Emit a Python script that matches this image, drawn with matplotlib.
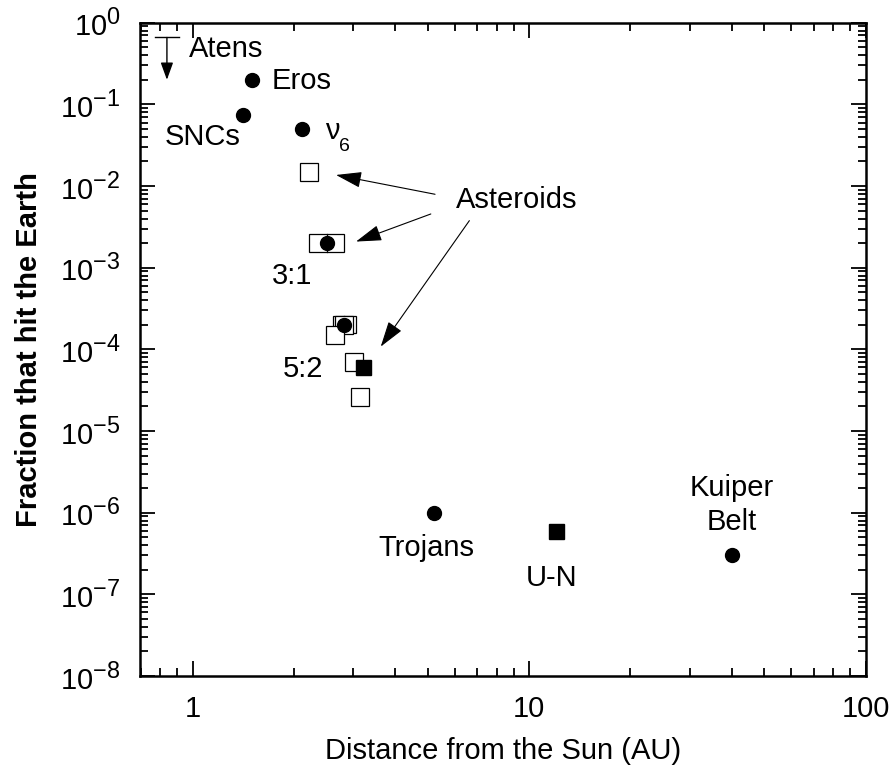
import matplotlib
matplotlib.use("Agg")
import matplotlib.pyplot as plt
import matplotlib._mathtext as mathtext_internal
from matplotlib.ticker import LogLocator, LogFormatterMathtext, NullFormatter
from matplotlib.patches import Rectangle

plt.rcParams['font.family'] = ['Liberation Sans', 'DejaVu Sans']
plt.rcParams['mathtext.fontset'] = 'custom'
plt.rcParams['mathtext.rm'] = 'Liberation Sans'
plt.rcParams['mathtext.it'] = 'Liberation Sans:italic'
plt.rcParams['mathtext.bf'] = 'Liberation Sans:bold'
# larger exponents, like the original tick labels
mathtext_internal.SHRINK_FACTOR = 0.8

# filled circles: Eros, SNCs, nu6, 3:1, 5:2, Trojans, Kuiper Belt
circ_x = [1.50, 1.41, 2.11, 2.51, 2.82, 5.21, 40.1]
circ_y = [0.20, 0.074, 0.050, 2.0e-3, 2.0e-4, 1.0e-6, 3.0e-7]

# open squares (asteroids)
osq_x = [2.21, 2.82, 2.64, 3.01, 3.14]
osq_y = [1.5e-2, 2.0e-4, 1.5e-4, 7.1e-5, 2.6e-5]

# filled squares
fsq_x = [3.20, 12.0]
fsq_y = [6.0e-5, 6.0e-7]

# error boxes around 3:1 and 5:2 (xlo, xhi), (ylo, yhi)
box_x = [(2.22, 2.82), (2.62, 3.06)]
box_y = [(1.55e-3, 2.6e-3), (1.58e-4, 2.59e-4)]

# Atens upper limit
atens_x = 0.838
atens_y = 0.66
atens_bar = (0.773, 0.911)
atens_tip = 0.20

x_ticks = [1, 10, 100]
x_ticklabels = ['1', '10', '100']
y_ticks = [1e-8, 1e-7, 1e-6, 1e-5, 1e-4, 1e-3, 1e-2, 1e-1, 1e0]

fig = plt.figure(figsize=(8.94, 7.68), dpi=100)
ax = fig.add_axes([0.1566, 0.1198, 0.9683 - 0.1566, 0.9704 - 0.1198])
ax.set_xscale('log')
ax.set_yscale('log')

ax.plot(circ_x, circ_y, 'o', color='black', ms=10, zorder=5)
ax.plot(osq_x, osq_y, 's', mfc='white', mec='black', mew=0.9, ms=13.3, zorder=4)
ax.plot(fsq_x, fsq_y, 's', color='black', ms=10.8, zorder=6)

for (x0, x1), (y0, y1), xc in zip(box_x, box_y, circ_x[3:5]):
    ax.add_patch(Rectangle((x0, y0), x1 - x0, y1 - y0, fill=False,
                           ec='black', lw=0.9, zorder=3))
    ax.plot([xc, xc], [y0, y1], color='black', lw=0.9, zorder=3)

# Atens upper limit marker
ax.plot(atens_bar, [atens_y, atens_y], color='black', lw=1.0)
ax.annotate('', xy=(atens_x, atens_tip), xytext=(atens_x, atens_y),
            arrowprops=dict(arrowstyle='-|>,head_length=1.05,head_width=0.38',
                            color='black', lw=1.0, shrinkA=0, shrinkB=0))

fs = 21
ax.text(0.975, 0.477, 'Atens', fontsize=fs, ha='left', va='center')
ax.text(1.72, 0.193, 'Eros', fontsize=fs, ha='left', va='center')
ax.text(1.073, 0.0399, 'SNCs', fontsize=fs, ha='center', va='center')
ax.text(2.47, 0.0472, 'ν', fontsize=fs, ha='left', va='center')
ax.text(2.72, 0.0301, '6', fontsize=14, ha='left', va='center')
ax.text(9.18, 6.76e-3, 'Asteroids', fontsize=fs, ha='center', va='center')
ax.text(1.973, 7.93e-4, '3:1', fontsize=fs, ha='center', va='center')
ax.text(2.127, 5.77e-5, '5:2', fontsize=fs, ha='center', va='center')
ax.text(4.935, 3.72e-7, 'Trojans', fontsize=fs, ha='center', va='center')
ax.text(11.69, 1.6e-7, 'U-N', fontsize=fs, ha='center', va='center')
ax.text(39.9, 2.02e-6, 'Kuiper', fontsize=fs, ha='center', va='center')
ax.text(39.9, 7.74e-7, 'Belt', fontsize=fs, ha='center', va='center')

arrows = [((5.25, 7.93e-3), (2.666, 1.367e-2)),
          ((5.10, 4.55e-3), (3.057, 2.09e-3)),
          ((6.64, 3.77e-3), (3.62, 1.08e-4))]
for start, end in arrows:
    ax.annotate('', xy=end, xytext=start,
                arrowprops=dict(arrowstyle='-|>,head_length=1.6,head_width=0.5',
                                color='black', lw=0.8, shrinkA=0, shrinkB=0))

ax.set_xticks(x_ticks)
ax.set_xticklabels(x_ticklabels)
ax.xaxis.set_minor_locator(LogLocator(base=10, subs=range(2, 10), numticks=20))
ax.xaxis.set_minor_formatter(NullFormatter())
ax.set_yticks(y_ticks)
ax.yaxis.set_minor_locator(LogLocator(base=10, subs=range(2, 10), numticks=20))
ax.yaxis.set_major_formatter(LogFormatterMathtext())
ax.yaxis.set_minor_formatter(NullFormatter())
ax.set_xlim(0.697, 100)
ax.set_ylim(1e-8, 1)

ax.tick_params(which='both', direction='in', top=True, right=True, width=1.3,
               labelsize=fs)
ax.tick_params(which='major', length=11)
ax.tick_params(which='minor', length=6)
ax.tick_params(axis='x', pad=14)
ax.tick_params(axis='y', pad=14)
for s in ax.spines.values():
    s.set_linewidth(1.8)

ax.set_xlabel('Distance from the Sun (AU)', fontsize=fs, labelpad=10)
ax.set_ylabel('Fraction that hit the Earth', fontsize=fs, fontweight='bold', labelpad=12)

fig.savefig('out.png', dpi=100)
